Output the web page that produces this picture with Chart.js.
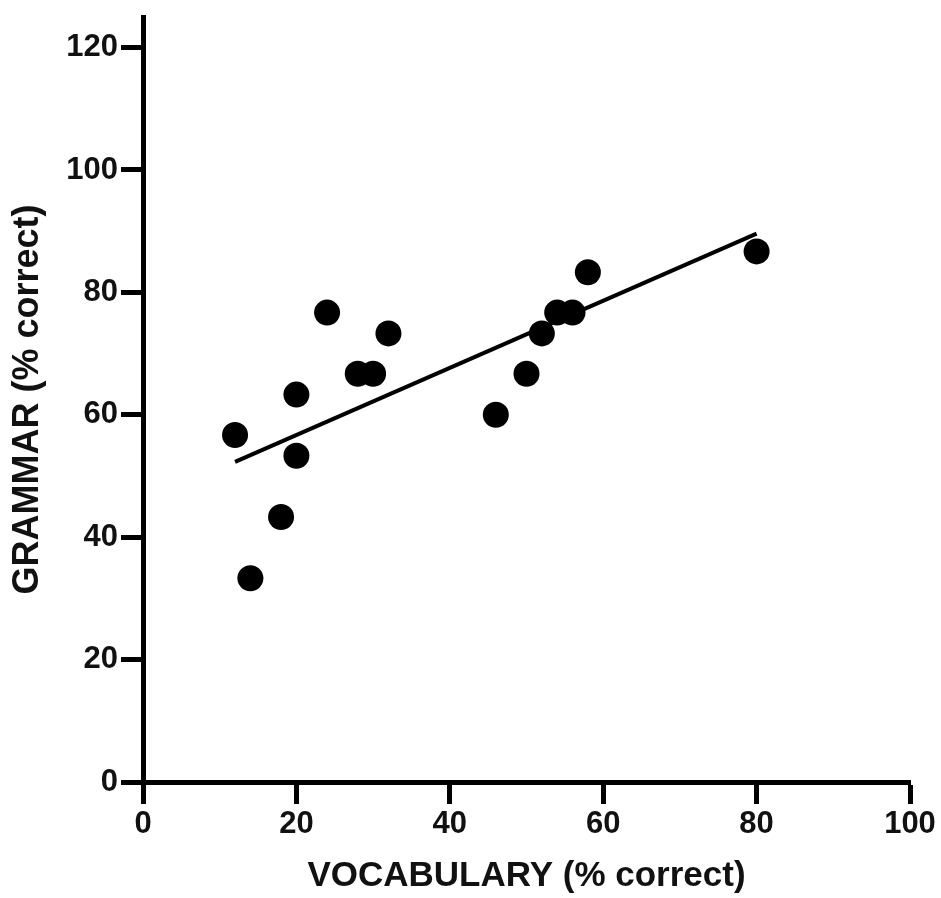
<!DOCTYPE html>
<html>
<head>
<meta charset="utf-8">
<script src="https://cdn.jsdelivr.net/npm/chart.js@4/dist/chart.umd.min.js"></script>
<style>
  html, body { margin: 0; padding: 0; background: #fff; }
  #wrap { width: 941px; height: 898px; }
</style>
</head>
<body>
<div id="wrap"><canvas id="chart" width="941" height="898"></canvas></div>
<script>
// 資料
const vocab = [12, 14, 18, 20, 20, 24, 28, 30, 32, 46, 50, 52, 54, 56, 58, 80];
const grammar = [56.7, 33.3, 43.3, 63.3, 53.3, 76.7, 66.7, 66.7, 73.3, 60, 66.7, 73.3, 76.7, 76.7, 83.3, 86.7];

// 迴歸線兩端
const fitX = [12, 80];
const fitY = [52.3, 89.6];

// 刻度
const xTicks = [0, 20, 40, 60, 80, 100];
const yTicks = [0, 20, 40, 60, 80, 100, 120];

const font = 'Liberation Sans, Arial, sans-serif';

const points = vocab.map((v, i) => ({x: v, y: grammar[i]}));
const fitLine = fitX.map((v, i) => ({x: v, y: fitY[i]}));

const axisGrid = {
  display: true,
  drawOnChartArea: false,
  drawTicks: true,
  tickLength: 22,
  tickWidth: 5,
  tickColor: '#000'
};
const axisBorder = {display: true, width: 5, color: '#000'};

new Chart(document.getElementById('chart').getContext('2d'), {
  type: 'scatter',
  data: {
    datasets: [
      {
        data: points,
        backgroundColor: '#000',
        borderColor: '#000',
        pointRadius: 13,
        pointHoverRadius: 13,
        borderWidth: 0
      },
      {
        data: fitLine,
        showLine: true,
        borderColor: '#000',
        borderWidth: 4,
        pointRadius: 0,
        fill: false
      }
    ]
  },
  options: {
    responsive: false,
    animation: false,
    layout: {padding: {left: 0, right: 31, top: 17, bottom: 0}},
    plugins: {legend: {display: false}, tooltip: {enabled: false}},
    scales: {
      x: {
        type: 'linear',
        min: 0,
        max: 100,
        afterBuildTicks: s => { s.ticks = xTicks.map(v => ({value: v})); },
        afterFit: s => { s.height = 116; s.paddingLeft = 0; s.paddingRight = 0; },
        grid: axisGrid,
        border: axisBorder,
        ticks: {color: '#111', padding: 2, font: {family: font, size: 31, weight: 'bold'}},
        title: {
          display: true,
          text: 'VOCABULARY (% correct)',
          color: '#111',
          padding: {top: 0, bottom: 1},
          font: {family: font, size: 35, weight: 'bold'}
        }
      },
      y: {
        type: 'linear',
        min: 0,
        max: 125,
        afterBuildTicks: s => { s.ticks = yTicks.map(v => ({value: v})); },
        afterFit: s => { s.width = 143; s.paddingTop = 0; s.paddingBottom = 0; },
        grid: axisGrid,
        border: axisBorder,
        ticks: {color: '#111', padding: 3, font: {family: font, size: 31, weight: 'bold'}},
        title: {
          display: true,
          text: 'GRAMMAR (% correct)',
          color: '#111',
          padding: {top: 6, bottom: 0},
          font: {family: font, size: 36, weight: 'bold'}
        }
      }
    }
  }
});
</script>
</body>
</html>
